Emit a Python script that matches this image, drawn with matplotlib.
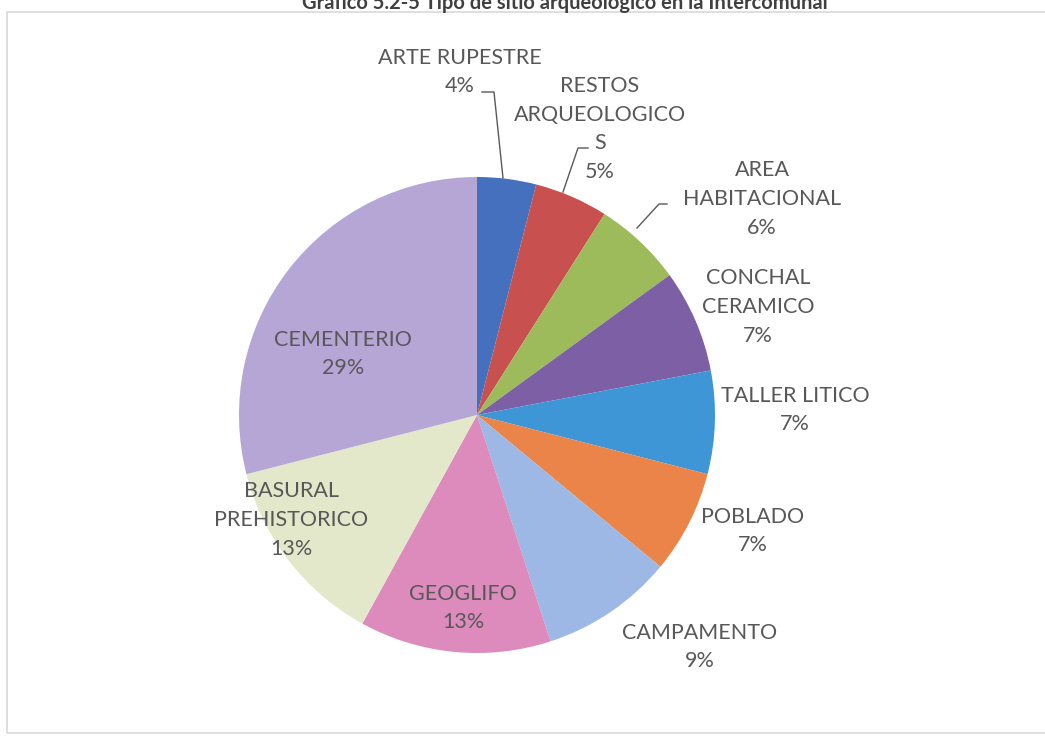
import numpy as np
import matplotlib.pyplot as plt
from matplotlib.patches import Rectangle

# data (percent of sites)
categories = ['ARTE RUPESTRE', 'RESTOS\nARQUEOLOGICO\nS', 'AREA\nHABITACIONAL',
              'CONCHAL\nCERAMICO', 'TALLER LITICO', 'POBLADO', 'CAMPAMENTO',
              'GEOGLIFO', 'BASURAL\nPREHISTORICO', 'CEMENTERIO']
values = [4, 5, 6, 7, 7, 7, 9, 13, 13, 29]
colors = ['#4470bd', '#c8504f', '#9dbb5a', '#7d5fa5', '#3f96d6',
          '#ea8449', '#9db8e4', '#dd8bbd', '#e2e8c9', '#b5a6d6']

title = 'Gráfico 5.2-5 Tipo de sitio arqueológico en la Intercomunal'

# label positions in pixels (x, y from top)
label_pos = [(460, 72), (600, 129), (762, 199), (758, 307), (795, 410),
             (753, 531), (700, 647), (463, 608), (291, 520), (343, 354)]

W, H = 1045, 738
fig = plt.figure(figsize=(W / 100, H / 100), dpi=100)
ax = fig.add_axes([0, 0, 1, 1])

# outer chart frame
ax.add_patch(Rectangle((7, H - 733), W, 721, fill=False, ec='#d9d9d9', lw=1.2))

cx, cy, r = 477, H - 415, 238
ax.pie(values, colors=colors, startangle=90, counterclock=False,
       center=(cx, cy), radius=r, frame=True,
       wedgeprops=dict(linewidth=0))
ax.set_xlim(0, W)
ax.set_ylim(0, H)
ax.set_aspect('equal')
ax.axis('off')

for cat, v, (px, py) in zip(categories, values, label_pos):
    ax.text(px, H - py, f'{cat}\n{v}%', ha='center', va='center',
            fontsize=15.5, color='#585858', family='Lato', linespacing=1.55)

# leader lines
leaders = [[(482, 92), (494, 92), (503, 178)],
           [(588, 148), (578, 148), (563, 192)],
           [(667, 204), (659, 204), (637, 228)]]
for pts in leaders:
    xs = [p[0] for p in pts]
    ys = [H - p[1] for p in pts]
    ax.plot(xs, ys, color='#595959', lw=1)

ax.text(565, H - 9, title, ha='center', va='baseline',
        fontsize=14.5, fontweight='bold', color='#404040', family='Lato')

fig.savefig('out.png', dpi=100)
